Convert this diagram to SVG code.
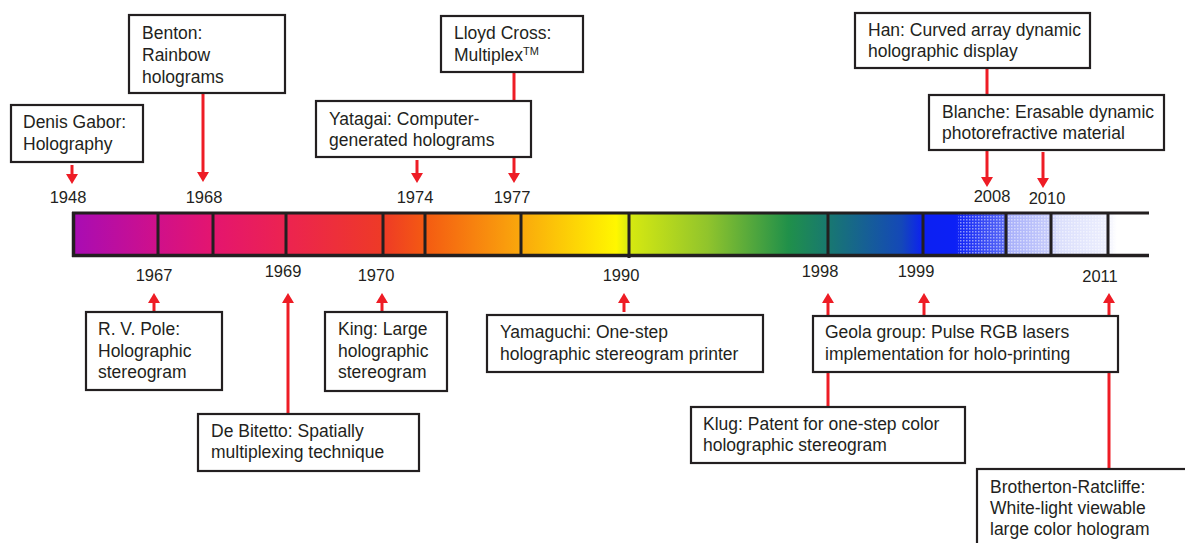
<svg xmlns="http://www.w3.org/2000/svg" width="1185" height="543" viewBox="0 0 1185 543">
<defs>
<style>
.box{fill:#fff;stroke:#231f20;stroke-width:2.2}
.t{font-family:"Liberation Sans",Arial,sans-serif;font-size:17.5px;fill:#231f20}
.y{font-family:"Liberation Sans",Arial,sans-serif;font-size:16.5px;fill:#231f20;text-anchor:middle}
.c{stroke:#ee1c25;stroke-width:3;fill:none;marker-end:url(#ah)}
.dv{stroke:#231f20;stroke-width:3}
</style>
<marker id="ah" viewBox="0 0 10 12" refX="6" refY="6" markerWidth="10" markerHeight="12" markerUnits="userSpaceOnUse" orient="auto">
<path d="M0,0 L10,6 L0,12 z" fill="#ee1c25"/>
</marker>
<linearGradient id="spec" gradientUnits="userSpaceOnUse" x1="73" y1="0" x2="1149" y2="0">
<stop offset="0" stop-color="#a80cb4"/>
<stop offset="0.079" stop-color="#d0108a"/>
<stop offset="0.130" stop-color="#e4156f"/>
<stop offset="0.198" stop-color="#ec2350"/>
<stop offset="0.288" stop-color="#ee3a26"/>
<stop offset="0.327" stop-color="#f45a12"/>
<stop offset="0.416" stop-color="#faa80c"/>
<stop offset="0.505" stop-color="#fff700"/>
<stop offset="0.516" stop-color="#d8ea10"/>
<stop offset="0.590" stop-color="#90c42c"/>
<stop offset="0.665" stop-color="#20904a"/>
<stop offset="0.702" stop-color="#187870"/>
<stop offset="0.770" stop-color="#1448b8"/>
<stop offset="0.790" stop-color="#0c20f2"/>
<stop offset="0.820" stop-color="#0c20f6"/>
<stop offset="0.865" stop-color="#5868f6"/>
<stop offset="0.870" stop-color="#a8b0fa"/>
<stop offset="0.910" stop-color="#c8cdfb"/>
<stop offset="0.915" stop-color="#dadefc"/>
<stop offset="0.960" stop-color="#eceefd"/>
<stop offset="0.970" stop-color="#ffffff"/>
<stop offset="1" stop-color="#ffffff"/>
</linearGradient>
<pattern id="dots" width="3" height="3" patternUnits="userSpaceOnUse">
<rect width="1.5" height="1.5" fill="#ffffff"/>
</pattern>
</defs>
<rect width="1185" height="543" fill="#fff"/>

<g id="bar">
<rect x="73" y="214" width="1076" height="41" fill="url(#spec)"/>
<rect x="958" y="214" width="160" height="41" fill="url(#dots)" opacity="0.5"/>
<line x1="72" y1="213" x2="1149" y2="213" stroke="#231f20" stroke-width="3"/>
<line x1="72" y1="255.5" x2="1149" y2="255.5" stroke="#231f20" stroke-width="3.5"/>
<line x1="73.5" y1="212" x2="73.5" y2="257" stroke="#231f20" stroke-width="3.5"/>
<line class="dv" x1="158" y1="213" x2="158" y2="255"/>
<line class="dv" x1="213" y1="213" x2="213" y2="255"/>
<line class="dv" x1="286" y1="213" x2="286" y2="255"/>
<line class="dv" x1="383" y1="213" x2="383" y2="255"/>
<line class="dv" x1="425" y1="213" x2="425" y2="255"/>
<line class="dv" x1="521" y1="213" x2="521" y2="255"/>
<line class="dv" x1="629" y1="213" x2="629" y2="258"/>
<line class="dv" x1="828" y1="213" x2="828" y2="255"/>
<line class="dv" x1="923" y1="213" x2="923" y2="255"/>
<line class="dv" x1="1006" y1="213" x2="1006" y2="256"/>
<line class="dv" x1="1051" y1="213" x2="1051" y2="255"/>
<line class="dv" x1="1108" y1="213" x2="1108" y2="255"/>
</g>

<g id="years">
<text class="y" x="68" y="203">1948</text>
<text class="y" x="204" y="203">1968</text>
<text class="y" x="415" y="203">1974</text>
<text class="y" x="512" y="203">1977</text>
<text class="y" x="992" y="202">2008</text>
<text class="y" x="1047" y="204">2010</text>
<text class="y" x="154" y="281">1967</text>
<text class="y" x="283" y="277">1969</text>
<text class="y" x="376" y="281">1970</text>
<text class="y" x="621" y="281">1990</text>
<text class="y" x="820" y="277">1998</text>
<text class="y" x="916" y="277">1999</text>
<text class="y" x="1100" y="282">2011</text>
</g>

<g id="connectors">
<line class="c" x1="72" y1="165" x2="72" y2="180"/>
<line class="c" x1="203" y1="93" x2="203" y2="178"/>
<line class="c" x1="417" y1="160" x2="417" y2="179"/>
<line class="c" x1="514" y1="72" x2="514" y2="179"/>
<line class="c" x1="987" y1="68" x2="987" y2="183"/>
<line class="c" x1="1043" y1="152" x2="1043" y2="184"/>
<line class="c" x1="154" y1="312" x2="154" y2="297"/>
<line class="c" x1="288" y1="414" x2="288" y2="297"/>
<line class="c" x1="382" y1="312" x2="382" y2="297"/>
<line class="c" x1="624" y1="312" x2="624" y2="297"/>
<line class="c" x1="828" y1="407" x2="828" y2="297"/>
<line class="c" x1="924" y1="316" x2="924" y2="297"/>
<line class="c" x1="1109" y1="469" x2="1109" y2="297"/>
</g>

<g id="gabor">
<rect class="box" x="11" y="105" width="132" height="57"/>
<text class="t" x="23" y="128">Denis Gabor:</text>
<text class="t" x="23" y="150">Holography</text>
</g>
<g id="benton">
<rect class="box" x="129" y="15" width="156" height="78"/>
<text class="t" x="142" y="39">Benton:</text>
<text class="t" x="142" y="61">Rainbow</text>
<text class="t" x="142" y="83">holograms</text>
</g>
<g id="yatagai">
<rect class="box" x="316" y="101" width="215" height="56"/>
<text class="t" x="329" y="125">Yatagai: Computer-</text>
<text class="t" x="329" y="146">generated holograms</text>
</g>
<g id="cross">
<rect class="box" x="441" y="16" width="142" height="56"/>
<text class="t" x="454" y="39">Lloyd Cross:</text>
<text class="t" x="454" y="61">Multiplex<tspan font-size="11" dy="-6">TM</tspan></text>
</g>
<g id="han">
<rect class="box" x="855" y="13" width="235" height="55"/>
<text class="t" x="868" y="36">Han: Curved array dynamic</text>
<text class="t" x="868" y="57">holographic display</text>
</g>
<g id="blanche">
<rect class="box" x="929" y="95" width="235" height="55"/>
<text class="t" x="942" y="118">Blanche: Erasable dynamic</text>
<text class="t" x="942" y="139">photorefractive material</text>
</g>
<g id="pole">
<rect class="box" x="86" y="312" width="136" height="78"/>
<text class="t" x="98" y="335">R. V. Pole:</text>
<text class="t" x="98" y="357">Holographic</text>
<text class="t" x="98" y="378">stereogram</text>
</g>
<g id="king">
<rect class="box" x="325" y="312" width="122" height="79"/>
<text class="t" x="338" y="335">King: Large</text>
<text class="t" x="338" y="357">holographic</text>
<text class="t" x="338" y="378">stereogram</text>
</g>
<g id="bitetto">
<rect class="box" x="198" y="414" width="221" height="57"/>
<text class="t" x="211" y="437">De Bitetto: Spatially</text>
<text class="t" x="211" y="458">multiplexing technique</text>
</g>
<g id="yamaguchi">
<rect class="box" x="487" y="315" width="276" height="57"/>
<text class="t" x="500" y="338">Yamaguchi: One-step</text>
<text class="t" x="500" y="360">holographic stereogram printer</text>
</g>
<g id="geola">
<rect class="box" x="813" y="316" width="305" height="56"/>
<text class="t" x="825" y="338">Geola group: Pulse RGB lasers</text>
<text class="t" x="825" y="360">implementation for holo-printing</text>
</g>
<g id="klug">
<rect class="box" x="691" y="407" width="274" height="56"/>
<text class="t" x="703" y="430">Klug: Patent for one-step color</text>
<text class="t" x="703" y="451">holographic stereogram</text>
</g>
<g id="brotherton">
<rect class="box" x="977" y="469" width="240" height="100"/>
<text class="t" x="990" y="493">Brotherton-Ratcliffe:</text>
<text class="t" x="990" y="514">White-light viewable</text>
<text class="t" x="990" y="535">large color hologram</text>
</g>
</svg>
